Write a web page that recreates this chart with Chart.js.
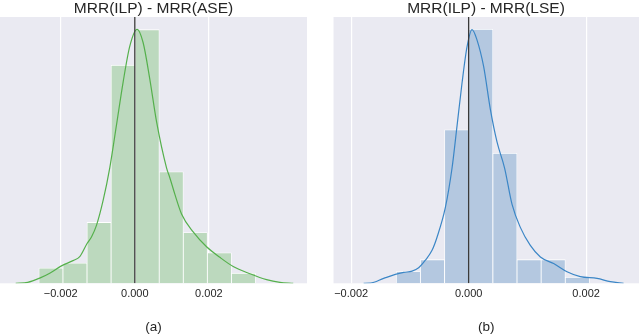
<!DOCTYPE html>
<html>
<head>
<meta charset="UTF-8">
<title>MRR differences</title>
<script src="https://cdn.jsdelivr.net/npm/chart.js@4.4.0/dist/chart.umd.min.js"></script>
<style>
    body { margin: 0; background: #ffffff; }
    .panel { position: absolute; top: 0; height: 334px; width: 310px; }
    #panelA { left: 0; }
    #panelB { left: 330px; }
</style>
</head>
<body>
<div class="panel" id="panelA"><canvas id="chartA"></canvas></div>
<div class="panel" id="panelB"><canvas id="chartB"></canvas></div>
<script>
// shared x ticks
const xTicks = [-0.002, 0, 0.002];
const xTickLabels = ['\u22120.002', '0.000', '0.002'];

// (a) MRR(ILP) - MRR(ASE)
const aseTitle = 'MRR(ILP) - MRR(ASE)';
const aseCaption = '(a)';
const aseBinCenters = [-0.002265, -0.001615, -0.000965, -0.000315, 0.000335, 0.000985, 0.001635, 0.002285, 0.002935];
const aseCounts = [3, 4, 12, 43, 50, 22, 10, 6, 2];
const aseKdeX = [-0.003216, -0.002892, -0.002568, -0.002297, -0.001981, -0.001668, -0.001486, -0.001289, -0.00117, -0.001035,
    -0.000857, -0.000676, -0.000495, -0.000316, -0.000135, 0.000062, 0.000224, 0.000405, 0.000586, 0.000857,
    0.000946, 0.001081, 0.001262, 0.001576, 0.001938, 0.002297, 0.002657, 0.003108, 0.003559, 0.003919, 0.004278];
const aseKdeY = [0, 0.19, 1.03, 2.0, 3.44, 4.47, 5.25, 7.84, 9.14, 11.42,
    16.28, 22.76, 31.19, 39.63, 46.75, 50.06, 47.47, 40.27, 31.91, 22.76,
    20.82, 17.57, 13.68, 10.12, 7.2, 5.12, 3.31, 1.89, 0.72, 0.19, 0];

// (b) MRR(ILP) - MRR(LSE)
const lseTitle = 'MRR(ILP) - MRR(LSE)';
const lseCaption = '(b)';
const lseBinCenters = [-0.001026, -0.000615, -0.000204, 0.000207, 0.000618, 0.001029, 0.00144, 0.001851];
const lseCounts = [2, 4, 26, 43, 22, 4, 4, 1];
const lseKdeX = [-0.001787, -0.001672, -0.001447, -0.001248, -0.001106, -0.000963, -0.000851, -0.000737, -0.000623, -0.000538,
    -0.000397, -0.000283, -0.000197, -0.000112, -0.000027, 0.000058, 0.000143, 0.000255, 0.000369, 0.000483,
    0.000613, 0.000739, 0.00088, 0.00105, 0.001221, 0.001447, 0.001675, 0.001901, 0.002186, 0.002412, 0.002638];
const lseKdeY = [0, 0.03, 0.83, 1.5, 1.84, 2.07, 2.62, 3.91, 5.58, 7.8,
    12.8, 19.48, 26.71, 33.96, 40.07, 42.97, 41.19, 36.73, 29.5, 23.94,
    19.48, 13.36, 9.47, 6.41, 4.46, 3.34, 1.95, 1.12, 0.83, 0.28, 0];

const FONT = "'Liberation Sans', Arial, sans-serif";
const TEXT = '#262626';

// seaborn-style grey plot background
const plotBg = {
    id: 'plotBg',
    beforeDraw(chart) {
        const a = chart.chartArea;
        const ctx = chart.ctx;
        ctx.save();
        ctx.fillStyle = '#eaeaf2';
        ctx.fillRect(a.left, a.top, a.right - a.left, a.bottom - a.top);
        ctx.restore();
    }
};

function makePanel(id, cfg) {
    const bars = cfg.centers.map((c, i) => ({ x: c, y: cfg.counts[i] }));
    const kde = cfg.kdeX.map((x, i) => ({ x: x, y: cfg.kdeY[i] }));
    return new Chart(document.getElementById(id), {
        type: 'bar',
        data: {
            datasets: [{
                type: 'line',
                data: [{ x: 0, y: 0 }, { x: 0, y: cfg.yMax }],
                borderColor: '#3a3a3a',
                borderWidth: 1.3,
                pointRadius: 0,
                tension: 0,
                order: 0
            }, {
                type: 'line',
                data: kde,
                borderColor: cfg.line,
                borderWidth: 1.2,
                pointRadius: 0,
                cubicInterpolationMode: 'monotone',
                order: 1
            }, {
                type: 'bar',
                data: bars,
                backgroundColor: cfg.fill,
                borderColor: '#ffffff',
                borderWidth: 0.8,
                barPercentage: 1,
                categoryPercentage: 1,
                order: 2
            }]
        },
        options: {
            responsive: true,
            maintainAspectRatio: false,
            animation: false,
            layout: { padding: cfg.padding },
            plugins: {
                legend: { display: false },
                tooltip: { enabled: false },
                title: {
                    display: true,
                    text: cfg.title,
                    color: TEXT,
                    font: { family: FONT, size: 15.5, weight: 'normal', lineHeight: 1 },
                    padding: { top: 0.5, bottom: 1 }
                }
            },
            scales: {
                x: {
                    type: 'linear',
                    offset: false,
                    min: cfg.xMin,
                    max: cfg.xMax,
                    afterBuildTicks: (scale) => { scale.ticks = xTicks.map(v => ({ value: v })); },
                    ticks: {
                        color: TEXT,
                        font: { family: FONT, size: 11 },
                        padding: 4,
                        maxRotation: 0,
                        callback: (v) => xTickLabels[xTicks.indexOf(v)]
                    },
                    grid: { color: '#ffffff', lineWidth: 1.2, drawTicks: false, offset: false },
                    border: { display: false },
                    title: {
                        display: true,
                        text: cfg.caption,
                        color: TEXT,
                        font: { family: FONT, size: 13.5, lineHeight: 1 },
                        padding: { top: 16, bottom: 0 }
                    }
                },
                y: {
                    display: false,
                    min: 0,
                    max: cfg.yMax
                }
            }
        },
        plugins: [plotBg]
    });
}

makePanel('chartA', {
    title: aseTitle, caption: aseCaption,
    centers: aseBinCenters, counts: aseCounts, kdeX: aseKdeX, kdeY: aseKdeY,
    xMin: -0.00364, xMax: 0.00465, yMax: 52.5,
    fill: '#bcd9be', line: '#55b04c',
    padding: { left: 0, right: 3, top: 0, bottom: 0 }
});

makePanel('chartB', {
    title: lseTitle, caption: lseCaption,
    centers: lseBinCenters, counts: lseCounts, kdeX: lseKdeX, kdeY: lseKdeY,
    xMin: -0.0023, xMax: 0.0029, yMax: 45.1,
    fill: '#b4c8e0', line: '#3b86c6',
    padding: { left: 3, right: 1, top: 0, bottom: 0 }
});
</script>
</body>
</html>
